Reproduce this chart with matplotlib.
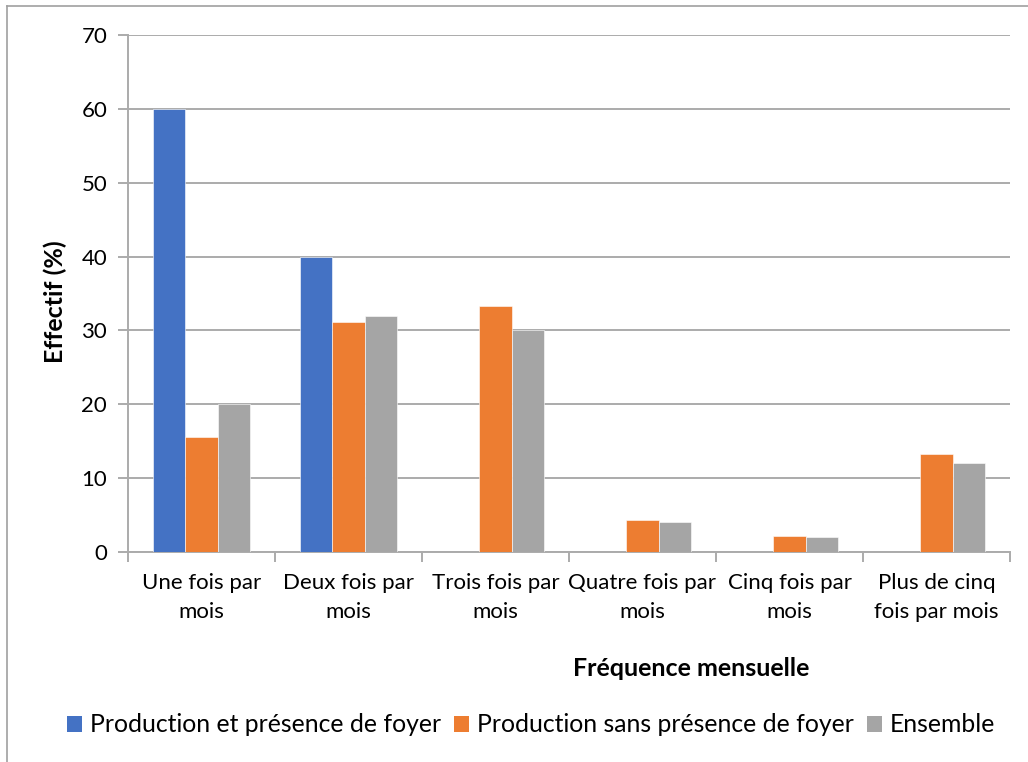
import numpy as np
import matplotlib.pyplot as plt
from matplotlib.lines import Line2D
from matplotlib.patches import Patch

plt.rcParams['font.family'] = ['Lato', 'DejaVu Sans']

# Répartition des effectifs (%) selon la fréquence mensuelle
categories = ["Une fois par\nmois", "Deux fois par\nmois", "Trois fois par\nmois",
              "Quatre fois par\nmois", "Cinq fois par\nmois", "Plus de cinq\nfois par mois"]
avec_foyer = [60, 40, 0, 0, 0, 0]
sans_foyer = [15.6, 31.1, 33.3, 4.4, 2.2, 13.3]
ensemble = [20, 32, 30, 4, 2, 12]

series = [
    ("Production et présence de foyer", avec_foyer, "#4472C4"),
    ("Production sans présence de foyer", sans_foyer, "#ED7D31"),
    ("Ensemble", ensemble, "#A5A5A5"),
]

W, H = 1028, 762
fig = plt.figure(figsize=(W / 100, H / 100), dpi=100)
ax = fig.add_axes([128 / W, 1 - 552 / H, (1010 - 128) / W, (552 - 35) / H])

x = np.arange(len(categories))
width = 0.222
for i, (name, vals, color) in enumerate(series):
    ax.bar(x + (i - 1) * width, vals, width, color=color, label=name,
           edgecolor='white', linewidth=0.4, zorder=3)

grid_color = '#ABABAB'
ax.set_xlim(-0.5, len(categories) - 0.5)
ax.set_ylim(0, 70)
ax.set_yticks(range(0, 71, 10))
ax.yaxis.grid(True, color=grid_color, linewidth=1.4, zorder=0)

for side in ['top', 'right']:
    ax.spines[side].set_visible(False)
for side in ['left', 'bottom']:
    ax.spines[side].set_color(grid_color)
    ax.spines[side].set_linewidth(1.4)

# ticks at category boundaries, labels centred in each category
ax.set_xticks(np.arange(-0.5, len(categories), 1.0))
ax.set_xticklabels([])
ax.set_xticks(x, minor=True)
ax.set_xticklabels(categories, minor=True, fontsize=16, linespacing=1.58)
ax.tick_params(axis='x', which='major', length=7, width=1.4, color=grid_color)
ax.tick_params(axis='x', which='minor', length=0, pad=15)
ax.tick_params(axis='y', length=7, width=1.4, color=grid_color, labelsize=16, pad=8)

fig.text(55 / W, 1 - 302 / H, "Effectif (%)", rotation=90, fontsize=18,
         fontweight='bold', ha='center', va='center')
fig.text(691 / W, 1 - 668 / H, "Fréquence mensuelle", fontsize=18,
         fontweight='bold', ha='center', va='center')

handles = [Patch(facecolor=c, label=n) for n, _, c in series]
fig.legend(handles=handles, loc='center', bbox_to_anchor=(531 / W, 1 - 725 / H),
           ncol=3, frameon=False, fontsize=17.8, handlelength=0.6, handleheight=0.6,
           handletextpad=0.3, columnspacing=0.55)

# chart frame
fig.add_artist(Line2D([7 / W, 7 / W], [0, 1 - 6 / H], color='#A0A0A0', linewidth=1.2))
fig.add_artist(Line2D([7 / W, 1], [1 - 6 / H, 1 - 6 / H], color='#A0A0A0', linewidth=1.2))

fig.savefig("out.png", dpi=100)
